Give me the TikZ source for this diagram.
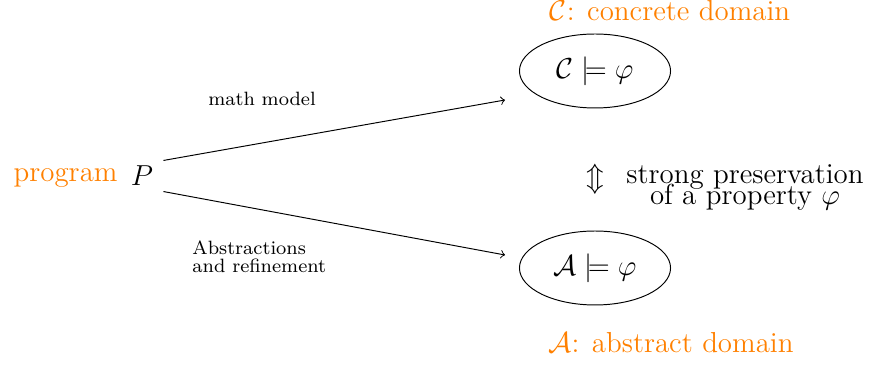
\documentclass[tikz,border=0pt]{standalone}
\usepackage{amsmath,amssymb}
\usetikzlibrary{shapes.geometric}
\begin{document}
\begin{tikzpicture}[x=0.415pt,y=-0.415pt,
  dom/.style={draw,ellipse,minimum width=62.7pt,minimum height=30.7pt,inner sep=0pt,font=\large},
  lbl/.style={inner sep=0pt,font=\large,text=orange},
  edgelbl/.style={inner sep=0pt,font=\footnotesize},
  main/.style={inner sep=0pt,font=\large}]
\useasboundingbox (0,0) rectangle (872,367);
\node[lbl,anchor=base east] (prog) at (118,182) {program};
\node[main,minimum width=17.4pt,minimum height=12.5pt] (P) at (142,176) {$P$};
\node[dom] (C) at (595,71) {$\mathcal{C}\models\varphi$};
\node[dom] (A) at (595,268) {$\mathcal{A}\models\varphi$};
\node[lbl,anchor=base] (Clbl) at (670,21) {$\mathcal{C}$: concrete domain};
\node[lbl,anchor=base] (Albl) at (671,353) {$\mathcal{A}$: abstract domain};
\node[main] (ud) at (595,179) {$\Updownarrow$};
\node[main,align=center,anchor=base] (pres) at (745,205) {strong preservation\\[-5pt]of a property $\varphi$};
\coordinate (ct) at (505,100);
\coordinate (ab) at (505,255);
\draw[->] (P.north east) -- (ct);
\draw[->] (P.south east) -- (ab);
\node[edgelbl,anchor=base] (mm) at (262,106) {math model};
\node[edgelbl,anchor=base west,align=left] (ar) at (192,273) {Abstractions\\[-2pt]and refinement};
\end{tikzpicture}
\end{document}
